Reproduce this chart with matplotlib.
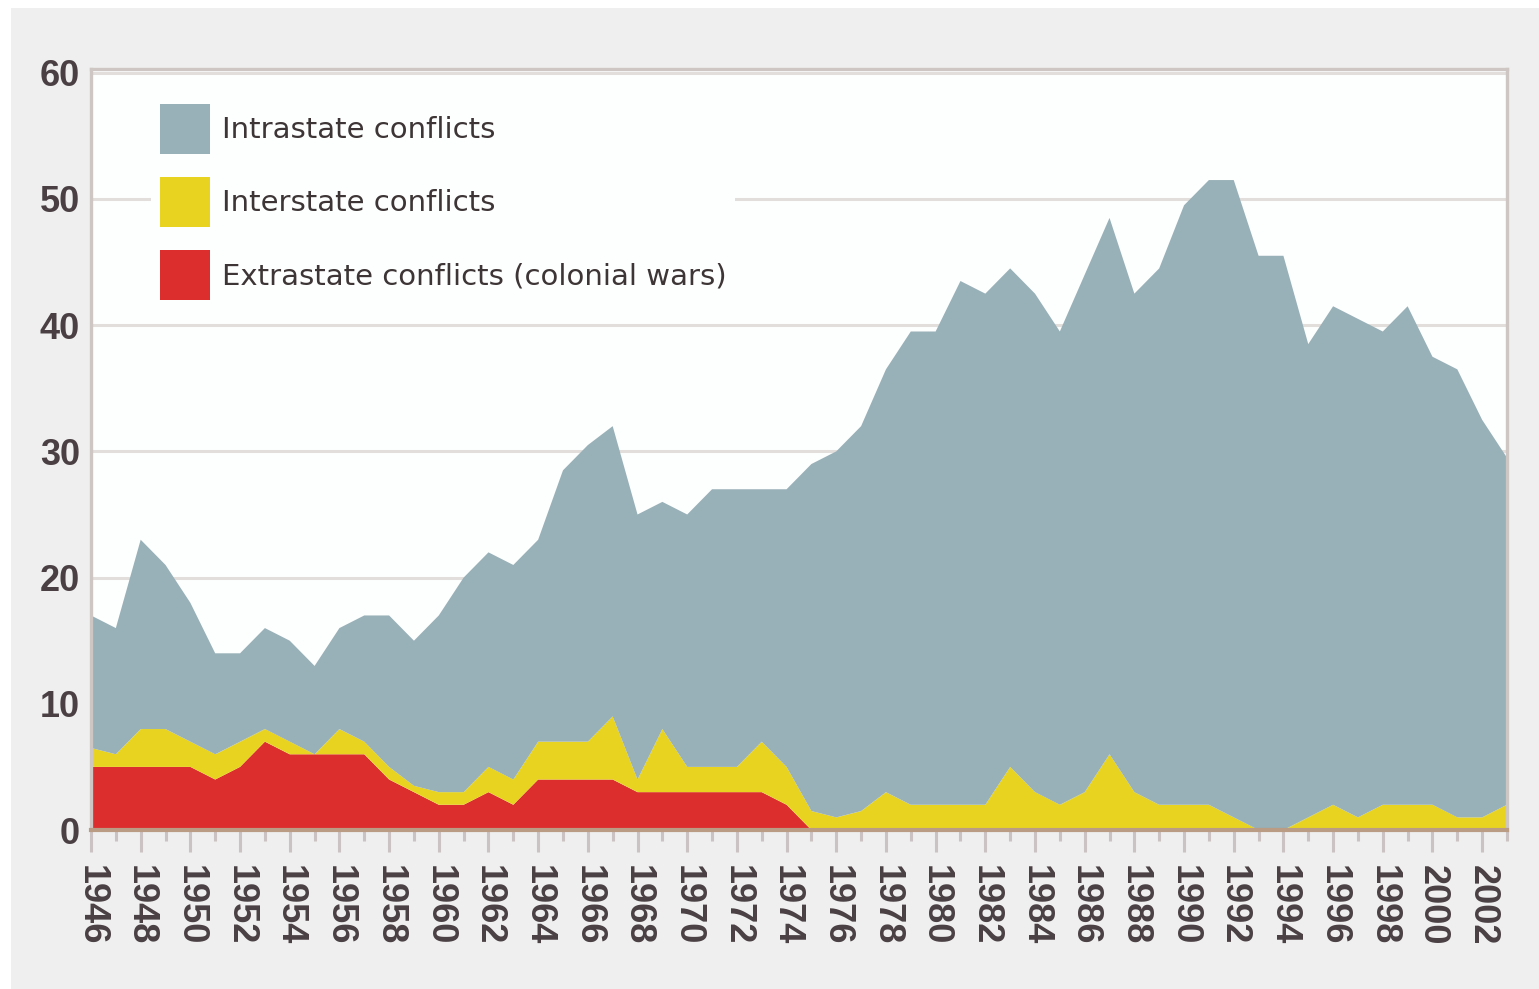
import matplotlib
matplotlib.use("Agg")
import matplotlib.pyplot as plt
from matplotlib import font_manager
from matplotlib.patches import Patch, Rectangle

# Armed conflicts by type, 1946-2003
years = list(range(1946, 2004))

extrastate = [5, 5, 5, 5, 5, 4, 5, 7, 6, 6,
              6, 6, 4, 3, 2, 2, 3, 2, 4, 4,
              4, 4, 3, 3, 3, 3, 3, 3, 2, 0,
              0, 0, 0, 0, 0, 0, 0, 0, 0, 0,
              0, 0, 0, 0, 0, 0, 0, 0, 0, 0,
              0, 0, 0, 0, 0, 0, 0, 0]

interstate = [1.5, 1, 3, 3, 2, 2, 2, 1, 1, 0,
              2, 1, 1, 0.5, 1, 1, 2, 2, 3, 3,
              3, 5, 1, 5, 2, 2, 2, 4, 3, 1.5,
              1, 1.5, 3, 2, 2, 2, 2, 5, 3, 2,
              3, 6, 3, 2, 2, 2, 1, 0, 0, 1,
              2, 1, 2, 2, 2, 1, 1, 2]

intrastate = [10.5, 10, 15, 13, 11, 8, 7, 8, 8, 7,
              8, 10, 12, 11.5, 14, 17, 17, 17, 16, 21.5,
              23.5, 23, 21, 18, 20, 22, 22, 20, 22, 27.5,
              29, 30.5, 33.5, 37.5, 37.5, 41.5, 40.5, 39.5, 39.5, 37.5,
              41, 42.5, 39.5, 42.5, 47.5, 49.5, 50.5, 45.5, 45.5, 37.5,
              39.5, 39.5, 37.5, 39.5, 35.5, 35.5, 31.5, 27.5]

labels = ["Intrastate conflicts", "Interstate conflicts",
          "Extrastate conflicts (colonial wars)"]
colors = ["#98b0b7", "#e8d420", "#dc2e2c"]

# pick a narrow font for the legend if there is one
names = {f.name for f in font_manager.fontManager.ttflist}
if "Liberation Sans Narrow" in names:
    legend_font = "Liberation Sans Narrow"
    legend_size = 25
else:
    legend_font = "DejaVu Sans"
    legend_size = 21
tick_font = "Liberation Sans" if "Liberation Sans" in names else "DejaVu Sans"
text_color = "#4a4043"

fig = plt.figure(figsize=(15.39, 9.89), dpi=100)
fig.patch.set_facecolor("white")
# grey panel behind the chart
fig.patches.append(Rectangle((11 / 1539, 0), 1, 981 / 989, transform=fig.transFigure,
                             facecolor="#efefef", edgecolor="none", zorder=-10))

ax = fig.add_axes([91 / 1539, 159 / 989, 1416 / 1539, 761 / 989])
ax.set_facecolor("#fdfefe")

ax.stackplot(years, extrastate, interstate, intrastate,
             colors=[colors[2], colors[1], colors[0]], linewidth=0)

ax.set_xlim(1946, 2003)
ax.set_ylim(0, 60.3)

# grid
ax.set_yticks(range(0, 70, 10))
ax.yaxis.grid(True, color="#e2dedb", linewidth=2.2)
ax.set_axisbelow(True)

# spines
for side in ["left", "top", "right"]:
    ax.spines[side].set_color("#cdc6c3")
    ax.spines[side].set_linewidth(2.4)
ax.spines["bottom"].set_color("#b99c83")
ax.spines["bottom"].set_linewidth(3)

# ticks
ax.set_xticks(years[::2])
ax.set_xticklabels([str(y) for y in years[::2]], rotation=270)
ax.set_xticks(years[1::2], minor=True)
ax.tick_params(axis="x", which="major", direction="out", length=16, width=2.2,
               color="#cbc2c3", pad=9)
ax.tick_params(axis="x", which="minor", direction="out", length=8, width=2.2,
               color="#cbc2c3")
ax.tick_params(axis="y", length=0, pad=8)
for lab in ax.get_xticklabels() + ax.get_yticklabels():
    lab.set_fontfamily(tick_font)
    lab.set_fontweight("bold")
    lab.set_fontsize(26)
    lab.set_color(text_color)

# legend: square swatches of about 50 px, rows 73 px apart
fs_px = legend_size * 100 / 72
hh = (50 / fs_px - 0.245) / 0.65
handles = [Patch(facecolor=c, edgecolor="none") for c in colors]
leg = ax.legend(handles, labels, loc="upper left", bbox_to_anchor=(0.0424, 0.9655),
                borderaxespad=0, frameon=True, fancybox=False,
                prop={"family": legend_font, "size": legend_size},
                handlelength=50 / fs_px, handleheight=hh,
                handletextpad=0.41, labelspacing=23 / fs_px, borderpad=0.3)
leg.get_frame().set_facecolor("#fdfefe")
leg.get_frame().set_edgecolor("none")
leg.get_frame().set_alpha(1)
for t in leg.get_texts():
    t.set_color("#3d3536")

fig.savefig("out.png", dpi=100, facecolor=fig.get_facecolor())
